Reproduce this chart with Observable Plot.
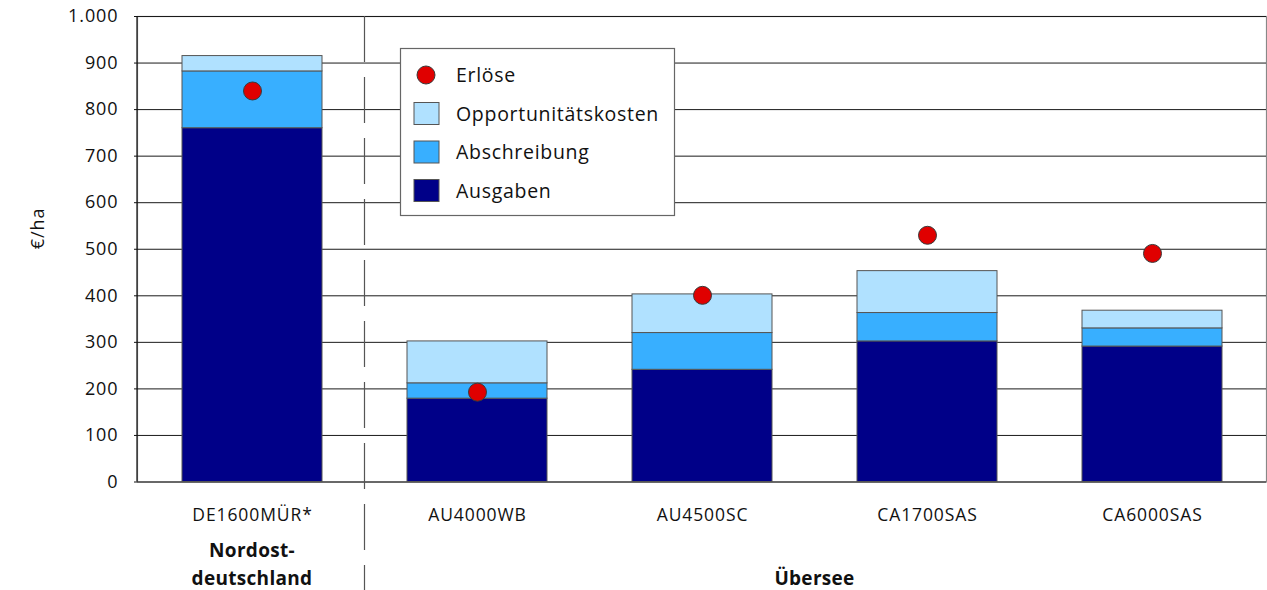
<!DOCTYPE html>
<html><head><meta charset="utf-8">
<script src="https://cdn.jsdelivr.net/npm/d3@7"></script>
<script src="https://cdn.jsdelivr.net/npm/@observablehq/plot@0.6"></script>
<style>
body{margin:0;background:#fff}
</style></head><body><div id="chart"></div>
<script>
// ---- data ----
const categories = ["DE1600MÜR*", "AU4000WB", "AU4500SC", "CA1700SAS", "CA6000SAS"];
const ausgaben = [760, 179, 241, 302, 291];
const abschreibung = [122, 33, 79, 61, 39];
const opportunitaetskosten = [33, 90, 83, 90, 38];
const erloese = [840, 193, 401, 530, 491];
const seriesNames = ["Ausgaben", "Abschreibung", "Opportunitätskosten"];
const seriesColors = ["#000088", "#38AFFF", "#B0E1FF"];
const pointName = "Erlöse";
const yTicks = [0, 100, 200, 300, 400, 500, 600, 700, 800, 900, 1000];
const yTickLabels = ["0", "100", "200", "300", "400", "500", "600", "700", "800", "900", "1.000"];
const yLabel = "€/ha";
const groupLabels = ["Nordost-\ndeutschland", "Übersee"];
const groupFrom = ["DE1600MÜR*", "AU4000WB"];
const groupTo = ["DE1600MÜR*", "CA6000SAS"];

(function () {
// ---- tables ----
const seriesValues = [ausgaben, abschreibung, opportunitaetskosten];
const rows = [];
categories.forEach((c, i) => seriesNames.forEach((s, k) => rows.push({category: c, series: s, value: seriesValues[k][i]})));
const points = categories.map((c, i) => ({category: c, value: erloese[i]}));

const FONT = "'Open Sans', sans-serif";

const plot = Plot.plot({
  width: 1267, height: 590,
  marginLeft: 137, marginRight: 1, marginTop: 16, marginBottom: 108.5,
  style: {fontFamily: FONT, fontSize: "17.5px", letterSpacing: "0.9px", color: "#111", background: "#fff"},
  x: {domain: categories, paddingInner: 0.38, paddingOuter: 0.19, axis: null},
  y: {domain: [0, 1000], axis: null},
  color: {domain: seriesNames, range: seriesColors},
  marks: [
    Plot.frame({stroke: "#888", strokeWidth: 1.2}),
    Plot.ruleY(yTicks, {stroke: "#1a1a1a", strokeWidth: 1}),
    Plot.barY(rows, {x: "category", y: "value", fill: "series", order: seriesNames, stroke: "#555", strokeWidth: 1}),
    Plot.dot(points, {x: "category", y: "value", r: 9, fill: "#e00000", stroke: "#3a3a3a", strokeWidth: 1}),
    Plot.axisY({ticks: yTicks, tickFormat: d => yTickLabels[yTicks.indexOf(d)], tickSize: 3, tickPadding: 16, label: null, fontSize: 18}),
    Plot.axisX({tickSize: 0, tickPadding: 27, label: null}),
    Plot.text([yLabel], {frameAnchor: "left", dx: -99, rotate: -90, fontSize: 18})
  ]
});
document.getElementById("chart").appendChild(plot);

// ---- annotations that use the library's scales ----
const svg = d3.select(plot);
const sx = plot.scale("x"), sy = plot.scale("y");
const bw = sx.bandwidth, step = sx.step;
const yTop = sy.apply(1000), yBottom = sy.apply(0);
const xLeft = sx.range[0];

// left axis line
svg.append("line").attr("x1", xLeft).attr("x2", xLeft).attr("y1", yTop).attr("y2", yBottom)
  .attr("stroke", "#111").attr("stroke-width", 1.2);

// separator between groups
const sepX = sx.apply(groupFrom[1]) - (step - bw) / 2;
svg.append("line").attr("x1", sepX).attr("x2", sepX).attr("y1", yTop).attr("y2", 590)
  .attr("stroke", "#555").attr("stroke-width", 1.2).attr("stroke-dasharray", "46,15");

// group labels (last line on the bottom row)
groupLabels.forEach((g, i) => {
  const cx = (sx.apply(groupFrom[i]) + sx.apply(groupTo[i]) + bw) / 2;
  const lines = g.split("\n");
  const t = svg.append("text").attr("text-anchor", "middle").attr("font-family", FONT)
    .attr("font-weight", "bold").attr("font-size", 19).attr("letter-spacing", "0.3px").attr("fill", "#111");
  lines.forEach((ln, j) => {
    t.append("tspan").attr("x", cx).attr("y", yBottom + 103.5 - 28.5 * (lines.length - 1 - j)).text(ln);
  });
});

// legend
const lg = svg.append("g").attr("font-family", FONT).attr("font-size", 19.5).attr("letter-spacing", "0.7px").attr("fill", "#111");
lg.append("rect").attr("x", 400.5).attr("y", 48.5).attr("width", 274).attr("height", 167)
  .attr("fill", "#fff").attr("stroke", "#666").attr("stroke-width", 1.2);
const legendItems = [{name: pointName, type: "dot", color: "#e00000"}]
  .concat(seriesNames.map((s, k) => ({name: s, type: "rect", color: seriesColors[k]})).reverse());
legendItems.forEach((it, i) => {
  const cy = 75 + 38.5 * i;
  if (it.type === "dot") {
    lg.append("circle").attr("cx", 426).attr("cy", cy).attr("r", 9).attr("fill", it.color).attr("stroke", "#3a3a3a");
  } else {
    lg.append("rect").attr("x", 414).attr("y", cy - 11).attr("width", 25).attr("height", 22)
      .attr("fill", it.color).attr("stroke", "#555");
  }
  lg.append("text").attr("x", 456).attr("y", cy).attr("dy", "0.36em").attr("text-anchor", "start").text(it.name);
});
})();
</script></body></html>
